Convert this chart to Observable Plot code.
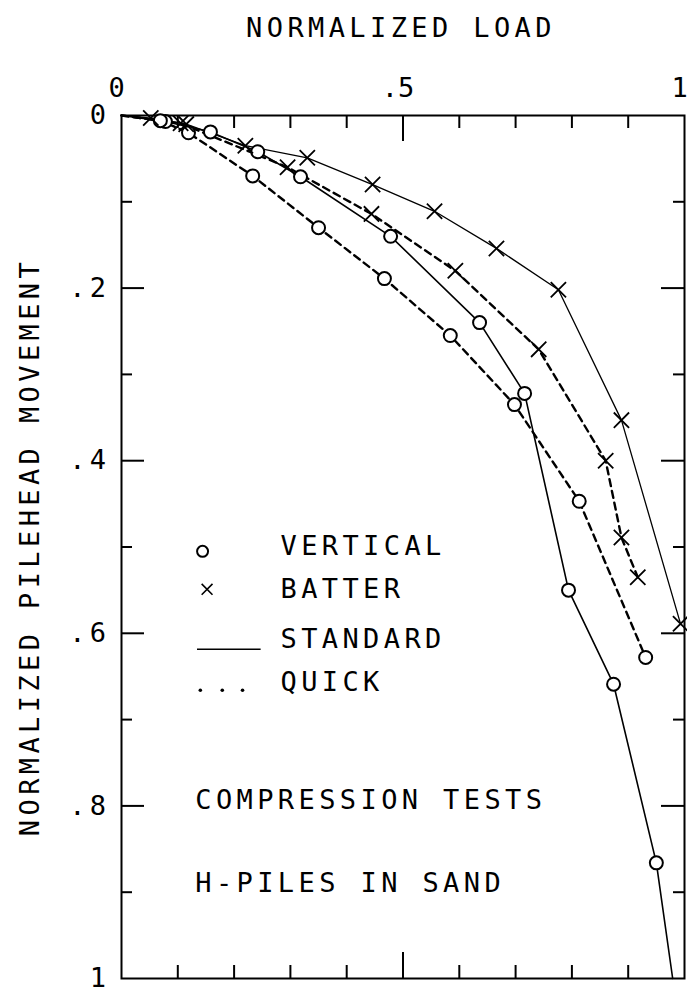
<!DOCTYPE html>
<html><head><meta charset="utf-8">
<script src="https://cdn.jsdelivr.net/npm/d3@7"></script>
<script src="https://cdn.jsdelivr.net/npm/@observablehq/plot@0.6"></script>
<style>body{margin:0;background:#fff}</style>
</head><body><div id="chart"></div>
<script>
// Vertical piles, standard test (solid, circles)
const vsLoad = [0, 0.078, 0.158, 0.242, 0.318, 0.478, 0.636, 0.716, 0.794, 0.874, 0.950, 0.979];
const vsMove = [0, 0.007, 0.019, 0.042, 0.071, 0.140, 0.240, 0.322, 0.550, 0.659, 0.866, 1.0];
// Vertical piles, quick test (dashed, circles)
const vqLoad = [0, 0.069, 0.119, 0.233, 0.350, 0.467, 0.584, 0.698, 0.813, 0.931];
const vqMove = [0, 0.006, 0.020, 0.070, 0.130, 0.189, 0.255, 0.335, 0.447, 0.628];
// Batter piles, standard test (solid, crosses)
const bsLoad = [0, 0.052, 0.115, 0.220, 0.330, 0.446, 0.556, 0.666, 0.776, 0.888, 0.993];
const bsMove = [0, 0.003, 0.010, 0.035, 0.049, 0.080, 0.111, 0.154, 0.202, 0.353, 0.589];
// Batter piles, quick test (dashed, crosses)
const bqLoad = [0, 0.105, 0.295, 0.444, 0.593, 0.741, 0.860, 0.888, 0.917];
const bqMove = [0, 0.009, 0.060, 0.114, 0.180, 0.271, 0.400, 0.489, 0.535];

const xMinorTicks = [0.1, 0.2, 0.3, 0.4, 0.6, 0.7, 0.8, 0.9];
const xMajorTicks = [0.5];
const yMinorTicks = [0.1, 0.3, 0.5, 0.7, 0.9];
const yMajorTicks = [0.2, 0.4, 0.6, 0.8];
const xLabelValues = [0, 0.5, 1];
const xLabelTexts = ["0", ".5", "1"];
const yLabelValues = [0, 0.2, 0.4, 0.6, 0.8, 1];
const yLabelTexts = ["0", ".2", ".4", ".6", ".8", "1"];

const xTitle = "NORMALIZED LOAD";
const yTitle = "NORMALIZED PILEHEAD MOVEMENT";
const legendNames = ["VERTICAL", "BATTER", "STANDARD", "QUICK"];
const notes = ["COMPRESSION TESTS", "H-PILES IN SAND"];

const build = (xs, ys) => xs.map((x, i) => ({load: x, move: ys[i]}));
const vs = build(vsLoad, vsMove), vq = build(vqLoad, vqMove);
const bs = build(bsLoad, bsMove), bq = build(bqLoad, bqMove);
const marked = d => d.move > 0 && d.move < 1;

const W = 687, H = 997, mL = 121, mR = 3, mT = 115, mB = 19;
const fw = W - mL - mR, fh = H - mT - mB;
const FONT = 27;

const solid = {x: "load", y: "move", stroke: "black", strokeWidth: 1.6};
const dashed = {x: "load", y: "move", stroke: "black", strokeWidth: 2.4, strokeDasharray: "7,5"};
const circ = {x: "load", y: "move", r: 6.5, stroke: "black", strokeWidth: 2, fill: "white"};
const cross = {x: "load", y: "move", symbol: "times", r: 7, stroke: "black", strokeWidth: 1.8};

// legend / annotation placement (data units)
const lgX = 0.2824;
const lgY = [0.4988, 0.549, 0.6068, 0.6570];

const chart = Plot.plot({
  width: W, height: H,
  marginLeft: mL, marginRight: mR, marginTop: mT, marginBottom: mB,
  x: {domain: [0, 1], axis: null},
  y: {domain: [0, 1], reverse: true, axis: null},
  style: {fontFamily: "'DejaVu Sans Mono', monospace", letterSpacing: "4.4px", background: "white", color: "black"},
  marks: [
    Plot.frame({stroke: "black", strokeWidth: 2}),
    // inward ticks
    Plot.ruleX(xMinorTicks, {x: d => d, insetBottom: fh - 13, strokeWidth: 2}),
    Plot.ruleX(xMinorTicks, {x: d => d, insetTop: fh - 13, strokeWidth: 2}),
    Plot.ruleX(xMajorTicks, {x: d => d, insetBottom: fh - 26, strokeWidth: 2}),
    Plot.ruleX(xMajorTicks, {x: d => d, insetTop: fh - 26, strokeWidth: 2}),
    Plot.ruleY(yMinorTicks, {y: d => d, insetRight: fw - 11, strokeWidth: 2}),
    Plot.ruleY(yMinorTicks, {y: d => d, insetLeft: fw - 11, strokeWidth: 2}),
    Plot.ruleY(yMajorTicks, {y: d => d, insetRight: fw - 23, strokeWidth: 2}),
    Plot.ruleY(yMajorTicks, {y: d => d, insetLeft: fw - 23, strokeWidth: 2}),
    // tick labels
    Plot.text(xLabelValues, {x: d => d, text: (d, i) => xLabelTexts[i], frameAnchor: "top", lineAnchor: "middle", textAnchor: "middle", dy: -27, dx: -5, fontSize: FONT, ariaDescription: "xticklabels"}),
    Plot.text(yLabelValues, {y: d => d, text: (d, i) => yLabelTexts[i], frameAnchor: "left", lineAnchor: "middle", textAnchor: "end", dx: -11, fontSize: FONT}),
    // titles
    Plot.text([xTitle], {frameAnchor: "top", lineAnchor: "middle", textAnchor: "middle", dy: -87, dx: -2, fontSize: FONT}),
    Plot.text([yTitle], {frameAnchor: "left", lineAnchor: "middle", textAnchor: "middle", rotate: -90, dx: -91, fontSize: FONT}),
    // series
    Plot.line(vs, solid),
    Plot.line(bs, {...solid, strokeWidth: 1.3}),
    Plot.line(vq, dashed),
    Plot.line(bq, dashed),
    Plot.dot(vs.filter(marked), circ),
    Plot.dot(vq.filter(marked), circ),
    Plot.dot(bs.filter(marked), cross),
    Plot.dot(bq.filter(marked), cross),
    // legend
    Plot.dot([0], {x: () => 0.144, y: () => 0.505, r: 5.5, stroke: "black", strokeWidth: 2, fill: "white"}),
    Plot.dot([0], {x: () => 0.152, y: () => 0.549, symbol: "times", r: 5, stroke: "black", strokeWidth: 1.6}),
    Plot.ruleY([0], {y: () => 0.6185, x1: () => 0.135, x2: () => 0.248, strokeWidth: 1.6}),
    Plot.dot([0.140, 0.179, 0.215], {x: d => d, y: () => 0.666, r: 1.8, fill: "black"}),
    Plot.text(legendNames, {x: () => lgX, y: (d, i) => lgY[i], text: d => d, textAnchor: "start", lineAnchor: "middle", fontSize: FONT}),
    Plot.text(notes, {x: () => 0.131, y: (d, i) => [0.7932, 0.8899][i], text: d => d, textAnchor: "start", lineAnchor: "middle", fontSize: FONT})
  ]
});
d3.select(chart).selectAll('g[aria-description="xticklabels"] text').style("letter-spacing", "0px");
document.getElementById("chart").appendChild(chart);
</script>
</body></html>
